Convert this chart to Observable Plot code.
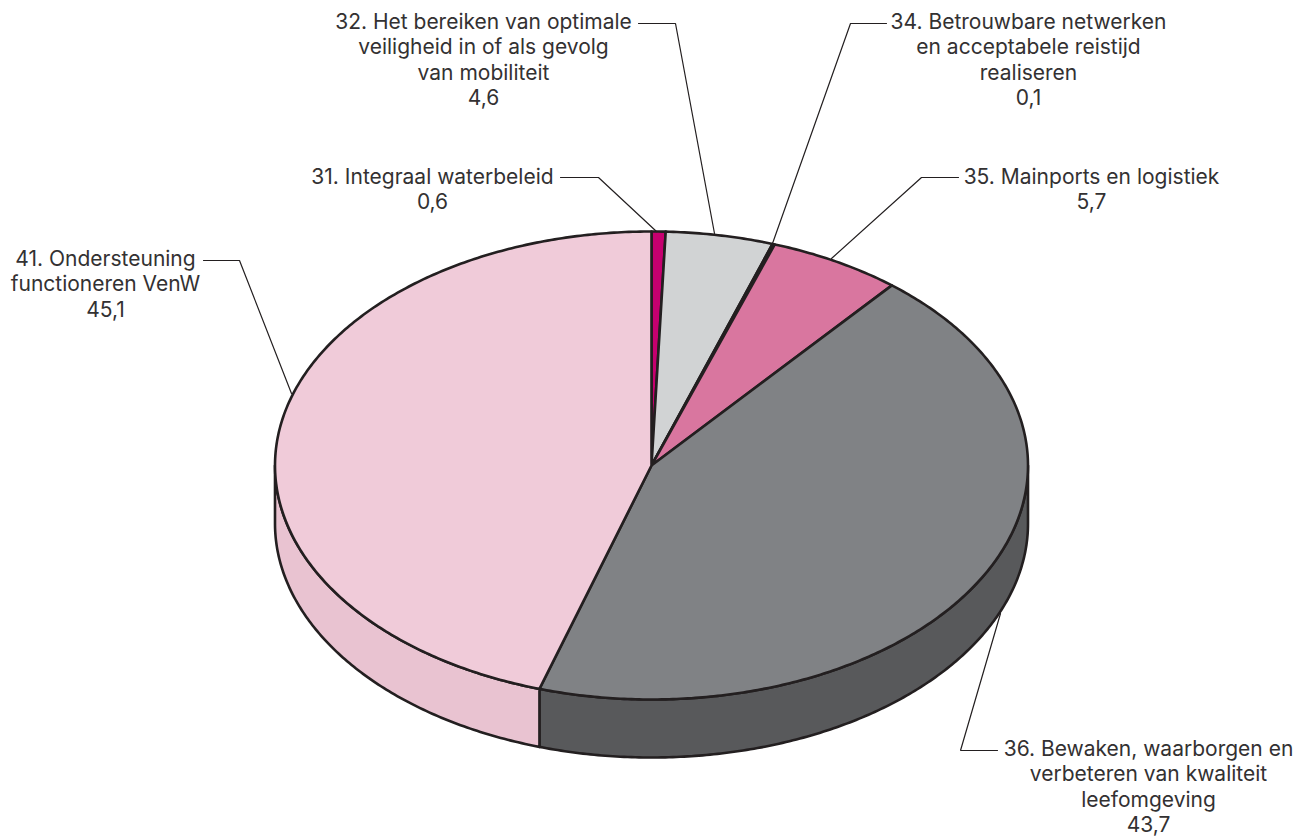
<!DOCTYPE html>
<html><head><meta charset="utf-8">
<style>html,body{margin:0;padding:0;background:#fff}svg{display:block}</style>
<script src="https://cdn.jsdelivr.net/npm/d3@7"></script>
<script src="https://cdn.jsdelivr.net/npm/@observablehq/plot@0.6"></script>
</head><body><div id="chart"></div>
<script>
const codes = ["31","32","34","35","36","41"];
const names = [
  "31. Integraal waterbeleid",
  "32. Het bereiken van optimale\nveiligheid in of als gevolg\nvan mobiliteit",
  "34. Betrouwbare netwerken\nen acceptabele reistijd\nrealiseren",
  "35. Mainports en logistiek",
  "36. Bewaken, waarborgen en\nverbeteren van kwaliteit\nleefomgeving",
  "41. Ondersteuning\nfunctioneren VenW"
];
const values = [0.6,4.6,0.1,5.7,43.7,45.1];
const topColors = ["#c6006f","#d1d3d4","#231f20","#d9769f","#808285","#f0cbd9"];
const sideColors = ["#a5005c","#b0b2b4","#231f20","#b9608a","#58595b","#e9c3d1"];

// layout of the tilted pie
const cx = 651, cy = 465, rx = 376.5, ry = 234, depth = 58;
const labelAnchors = [[432,165.5],[483,10.5],[1028,10.5],[1091,165.5],[1148,737.5],[105,247.5]];
const leaders = [
  [[560,177],[598,177],[656,231]],
  [[638,23],[675,23],[714,233]],
  [[886,23],[850,23],[772,243]],
  [[958,177],[921,177],[831,258]],
  [[997,750],[960,750],[1000,613]],
  [[203,260],[239,260],[291,393]]
];

const ink = "#231f20";
const pie = d3.pie().sort(null).value(d => d)(values);
const pt = (a, dz = 0) => [cx + rx * Math.sin(a), cy - ry * Math.cos(a) + dz];
function arcPts(a0, a1, dz = 0) {
  const n = Math.max(2, Math.ceil((a1 - a0) / 0.01));
  return d3.range(n + 1).map(i => pt(a0 + (a1 - a0) * i / n, dz));
}
const topPoly = s => {
  const p = [[cx, cy], ...arcPts(s.startAngle, s.endAngle)];
  p.push(p[0]);
  return p;
};
const sidePoly = s => {
  const a0 = Math.max(s.startAngle, Math.PI / 2), a1 = Math.min(s.endAngle, 3 * Math.PI / 2);
  if (a1 <= a0) return null;
  const p = [...arcPts(a0, a1), ...arcPts(a0, a1, depth).reverse()];
  p.push(p[0]);
  return p;
};
const poly = (p, o) => Plot.line(p, {x: d => d[0], y: d => d[1], curve: "linear", strokeLinejoin: "round", ...o});

const marks = [];
pie.forEach((s, i) => {
  const p = sidePoly(s);
  if (p) marks.push(poly(p, {fill: sideColors[i], stroke: ink, strokeWidth: 2.6}));
});
pie.forEach((s, i) => marks.push(poly(topPoly(s), {fill: topColors[i], stroke: ink, strokeWidth: 2.6})));
leaders.forEach(l => marks.push(poly(l, {stroke: ink, strokeWidth: 1.2, strokeLinejoin: "miter"})));
const labels = names.map((n, i) => ({
  t: n + "\n" + values[i].toFixed(1).replace(".", ","),
  x: labelAnchors[i][0], y: labelAnchors[i][1]
}));
marks.push(Plot.text(labels, {
  x: "x", y: "y", text: "t", lineAnchor: "top", textAnchor: "middle",
  lineHeight: 1.21, fontSize: 21, fill: "#333132", fontFamily: "Inter"
}));

document.getElementById("chart").append(Plot.plot({
  width: 1310, height: 838, margin: 0,
  x: {domain: [0, 1310], range: [0, 1310], axis: null},
  y: {domain: [0, 838], range: [0, 838], axis: null},
  style: {background: "#fff"},
  marks
}));
</script></body></html>
